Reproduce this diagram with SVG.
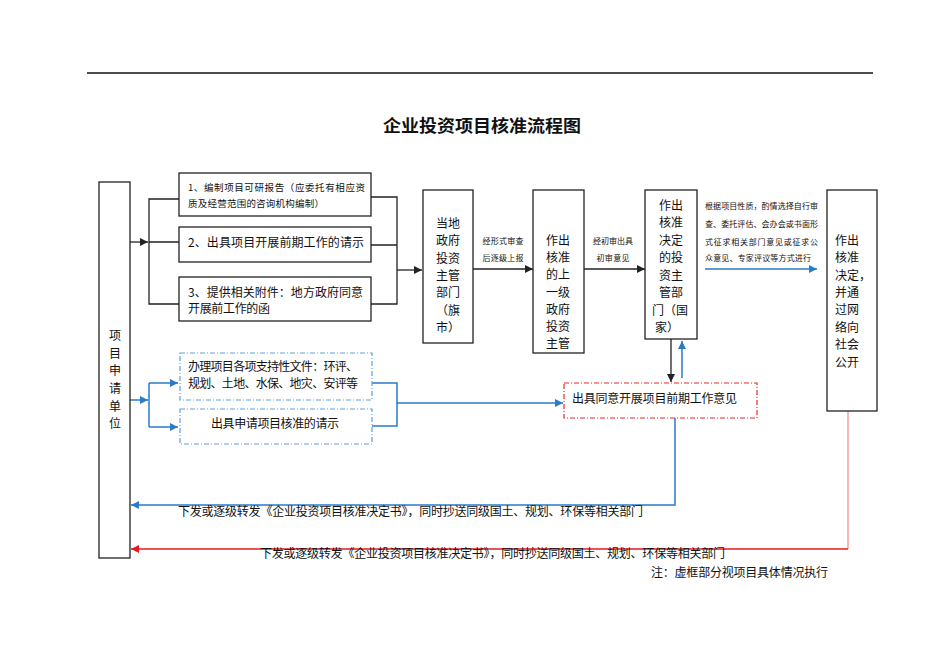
<svg xmlns="http://www.w3.org/2000/svg" width="945" height="669" viewBox="0 0 945 669">
<defs>
<style>
text{font-family:"Noto Sans CJK SC","Liberation Sans",sans-serif;fill:#111;}
.box{fill:#fff;stroke:#222;stroke-width:1.3;}
.bdash{fill:#fff;stroke:#5ea0dc;stroke-width:1.2;stroke-dasharray:5 2 1 2;}
.rdash{fill:#fff;stroke:#ee2a2a;stroke-width:1.2;stroke-dasharray:5 2 1 2;}
.k{fill:none;stroke:#222;stroke-width:1.3;}
.b{fill:none;stroke:#2a7bc9;stroke-width:1.5;}
.r{fill:none;stroke:#e8181e;stroke-width:1.3;}
.p{fill:none;stroke:#f7a0a0;stroke-width:1.5;}
.t13{font-size:12px;}
.t12{font-size:12px;}
.s8{font-size:8px;}
.mid{text-anchor:middle;}
</style>
<marker id="ak" markerUnits="userSpaceOnUse" markerWidth="9" markerHeight="8" refX="8" refY="4" orient="auto"><path d="M0,0 L8,4 L0,8 Z" fill="#222"/></marker>
<marker id="ab" markerUnits="userSpaceOnUse" markerWidth="9" markerHeight="8" refX="8" refY="4" orient="auto"><path d="M0,0 L8,4 L0,8 Z" fill="#2a7bc9"/></marker>
<marker id="ar" markerUnits="userSpaceOnUse" markerWidth="9" markerHeight="8" refX="8" refY="4" orient="auto"><path d="M0,0 L8,4 L0,8 Z" fill="#e8181e"/></marker>
</defs>
<rect width="945" height="669" fill="#fff"/>
<line x1="87" y1="73" x2="873" y2="73" stroke="#111" stroke-width="1.3"/>
<text x="482" y="132" class="mid" style="font-size:17px;font-weight:bold;" textLength="198" lengthAdjust="spacingAndGlyphs">企业投资项目核准流程图</text>

<g id="connectors">
<path class="k" d="M130 242 H148" marker-end="url(#ak)"/>
<path class="k" d="M179 199 H149 V304 H179 M149 242 H179"/>
<path class="k" d="M371 197 H397 V304 H371 M371 245 H397"/>
<path class="k" d="M397 270 H422" marker-end="url(#ak)"/>
<path class="k" d="M473 269 H533" marker-end="url(#ak)"/>
<path class="k" d="M584 269 H645" marker-end="url(#ak)"/>
<path class="k" d="M671 339 V382" marker-end="url(#ak)"/>
<path class="b" d="M682 378 V341" marker-end="url(#ab)"/>
<path class="b" d="M705 269 H817" marker-end="url(#ab)"/>
<path class="b" d="M130 400 H148" marker-end="url(#ab)"/>
<path class="b" d="M149 383 V427"/>
<path class="b" d="M149 383 H178" marker-end="url(#ab)"/>
<path class="b" d="M149 427 H178" marker-end="url(#ab)"/>
<path class="b" d="M372 383 H397 V426 H372"/>
<path class="b" d="M397 403 H563" marker-end="url(#ab)"/>
<path class="b" d="M675 418 V505 H131" marker-end="url(#ab)"/>
<path class="p" d="M848 411 V549"/>
<path class="r" d="M848 549 H131" marker-end="url(#ar)"/>
</g>

<g id="applicant">
<rect class="box" x="99" y="182" width="31" height="376"/>
<text class="t13 mid"><tspan x="115" y="340">项</tspan><tspan x="115" y="358">目</tspan><tspan x="115" y="375">申</tspan><tspan x="115" y="393">请</tspan><tspan x="115" y="411">单</tspan><tspan x="115" y="428">位</tspan></text>
</g>

<g id="step1">
<rect class="box" x="179" y="173" width="192" height="43"/>
<text class="s8" style="font-size:9.5px" x="188" y="191" textLength="177" lengthAdjust="spacing">1、编制项目可研报告（应委托有相应资</text>
<text class="s8" style="font-size:9.5px" x="188" y="207" textLength="136" lengthAdjust="spacing">质及经营范围的咨询机构编制）</text>
</g>
<g id="step2">
<rect class="box" x="179" y="227" width="192" height="35"/>
<text class="t12" x="188" y="247" textLength="176" lengthAdjust="spacing">2、出具项目开展前期工作的请示</text>
</g>
<g id="step3">
<rect class="box" x="179" y="277" width="192" height="44"/>
<text class="t12" x="188" y="297" textLength="175" lengthAdjust="spacing">3、提供相关附件：地方政府同意</text>
<text class="t12" x="188" y="313" textLength="82" lengthAdjust="spacing">开展前工作的函</text>
</g>

<g id="support">
<rect class="bdash" x="180" y="353" width="192" height="47"/>
<text class="t12" x="188" y="371" textLength="170" lengthAdjust="spacing">办理项目各项支持性文件：环评、</text>
<text class="t12" x="188" y="388" textLength="170" lengthAdjust="spacing">规划、土地、水保、地灾、安评等</text>
</g>
<g id="request">
<rect class="bdash" x="180" y="409" width="192" height="35"/>
<text class="t12" x="211" y="428" textLength="128" lengthAdjust="spacing">出具申请项目核准的请示</text>
</g>

<g id="local">
<rect class="box" x="423" y="190" width="50" height="153"/>
<text class="t13 mid"><tspan x="448" y="228">当地</tspan><tspan x="448" y="245">政府</tspan><tspan x="448" y="263">投资</tspan><tspan x="448" y="280">主管</tspan><tspan x="448" y="297">部门</tspan><tspan x="448" y="315">（旗</tspan><tspan x="448" y="332">市）</tspan></text>
</g>
<text class="s8 mid" x="503" y="244" textLength="41" lengthAdjust="spacing">经形式审查</text>
<text class="s8 mid" x="503" y="261" textLength="41" lengthAdjust="spacing">后逐级上报</text>

<g id="upper">
<rect class="box" x="533" y="190" width="51" height="163"/>
<text class="t13 mid"><tspan x="558" y="245">作出</tspan><tspan x="558" y="262">核准</tspan><tspan x="558" y="279">的上</tspan><tspan x="558" y="297">一级</tspan><tspan x="558" y="314">政府</tspan><tspan x="558" y="331">投资</tspan><tspan x="558" y="348">主管</tspan></text>
</g>
<text class="s8 mid" x="613" y="244" textLength="40" lengthAdjust="spacing">经初审出具</text>
<text class="s8 mid" x="613" y="261" textLength="33" lengthAdjust="spacing">初审意见</text>

<g id="national">
<rect class="box" x="645" y="190" width="52" height="149"/>
<text class="t13 mid"><tspan x="671" y="210">作出</tspan><tspan x="671" y="227">核准</tspan><tspan x="671" y="245">决定</tspan><tspan x="671" y="262">的投</tspan><tspan x="671" y="280">资主</tspan><tspan x="671" y="297">管部</tspan><tspan x="670" y="315">门（国</tspan><tspan x="667" y="332">家）</tspan></text>
</g>
<text class="s8" x="705" y="209" textLength="113" lengthAdjust="spacing">根据项目性质，酌情选择自行审</text>
<text class="s8" x="705" y="227" textLength="113" lengthAdjust="spacing">查、委托评估、会办会或书面形</text>
<text class="s8" x="705" y="245" textLength="113" lengthAdjust="spacing">式征求相关部门意见或征求公</text>
<text class="s8" x="705" y="261" textLength="106" lengthAdjust="spacing">众意见、专家评议等方式进行</text>

<g id="decision">
<rect class="box" x="827" y="190" width="50" height="221"/>
<text class="t13"><tspan x="835" y="245">作出</tspan><tspan x="835" y="262">核准</tspan><tspan x="835" y="280">决定，</tspan><tspan x="835" y="297">并通</tspan><tspan x="835" y="314">过网</tspan><tspan x="835" y="332">络向</tspan><tspan x="835" y="349">社会</tspan><tspan x="835" y="367">公开</tspan></text>
</g>

<g id="opinion">
<rect class="rdash" x="564" y="383" width="193" height="35"/>
<text class="t12" x="572" y="403" textLength="165" lengthAdjust="spacing">出具同意开展项目前期工作意见</text>
</g>

<text class="t12" x="178" y="516" textLength="465" lengthAdjust="spacing">下发或逐级转发《企业投资项目核准决定书》，同时抄送同级国土、规划、环保等相关部门</text>
<text class="t12" x="260" y="558" textLength="465" lengthAdjust="spacing">下发或逐级转发《企业投资项目核准决定书》，同时抄送同级国土、规划、环保等相关部门</text>
<text class="t12" x="651" y="577" textLength="177" lengthAdjust="spacing">注：虚框部分视项目具体情况执行</text>
</svg>
